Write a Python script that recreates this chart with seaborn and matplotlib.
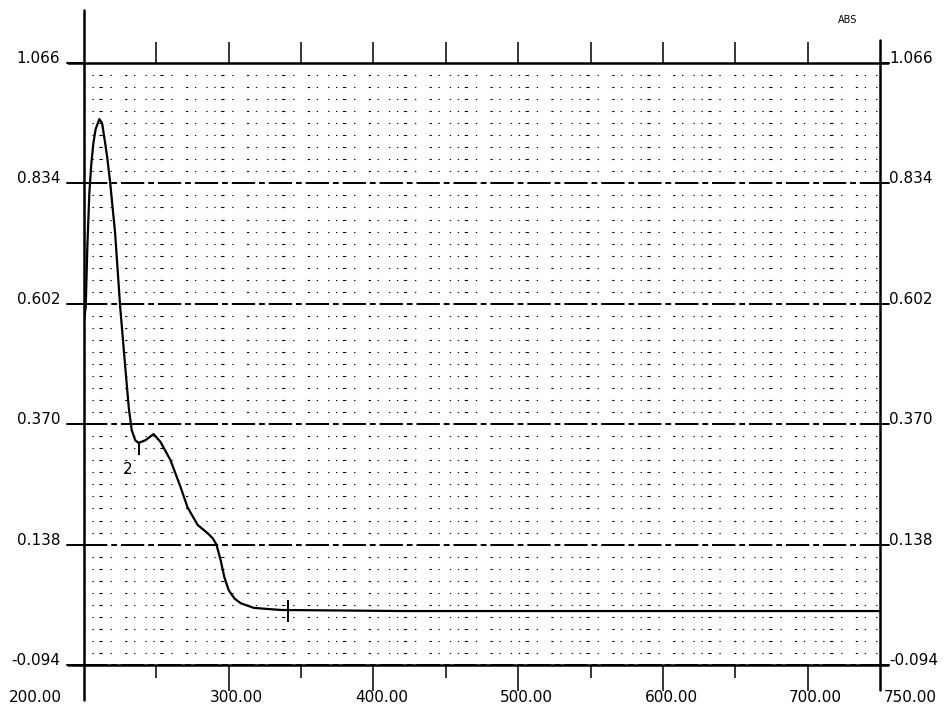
import numpy as np
import pandas as pd
import matplotlib
matplotlib.use("Agg")
import matplotlib.pyplot as plt
import seaborn as sns
from matplotlib import transforms

# ---------------- data ----------------
wavelength = [200.0, 201.2, 202.3, 203.7, 205.0, 206.5, 208.0, 210.6, 212.5, 214.6,
              216.0, 218.1, 221.5, 225.0, 228.5, 231.0, 233.0, 235.4, 237.7, 242.4,
              248.1, 252.8, 259.7, 266.7, 271.5, 278.5, 285.4, 289.0, 291.5, 294.4,
              297.0, 300.0, 304.0, 308.3, 317.4, 336.1, 419.4, 558.0, 750.0]
absorbance = [0.571, 0.596, 0.711, 0.816, 0.870, 0.912, 0.938, 0.958, 0.950, 0.912,
              0.885, 0.835, 0.738, 0.596, 0.480, 0.400, 0.358, 0.339, 0.334, 0.339,
              0.351, 0.336, 0.301, 0.249, 0.210, 0.176, 0.160, 0.150, 0.138, 0.108,
              0.075, 0.050, 0.034, 0.025, 0.016, 0.012, 0.010, 0.010, 0.010]

y_ticks = [1.066, 0.834, 0.602, 0.370, 0.138, -0.094]
y_tick_labels = ["1.066", "0.834", "0.602", "0.370", "0.138", "-0.094"]
x_ticks = [200, 300, 400, 500, 600, 700, 750]
x_tick_labels = ["200.00", "300.00", "400.00", "500.00", "600.00", "700.00", "750.00"]
x_top_ticks = [250, 300, 350, 400, 450, 500, 550, 600, 650, 700]
x_minor_ticks = [250, 350, 450, 550, 650]
y_minor_grid = list(np.linspace(-0.094, 1.066, 51))

peak_mark_nm = [237.7, 341.0]
peak_mark_lo = [0.311, -0.011]
peak_mark_hi = [0.334, 0.031]

# ---------------- style ----------------
sns.set_style("white")
plt.rcParams["font.family"] = ["DejaVu Sans"]
plt.rcParams["text.color"] = "black"

W, H = 948, 704
L, R, T, B = 84, 880, 63, 665
fig = plt.figure(figsize=(W / 100, H / 100), dpi=100)
ax = fig.add_axes([L / W, 1 - B / H, (R - L) / W, (B - T) / H])

df = pd.DataFrame({"wavelength": wavelength, "absorbance": absorbance})
sns.lineplot(data=df, x="wavelength", y="absorbance", color="black", lw=1.6,
             ax=ax, sort=False)

ax.set_xlim(200, 750)
ax.set_ylim(-0.094, 1.066)
ax.set_xlabel("")
ax.set_ylabel("")
for s in ax.spines.values():
    s.set_visible(False)

# grids
ax.set_yticks(y_ticks)
ax.set_yticks(y_minor_grid, minor=True)
ax.tick_params(axis="y", which="both", length=0, labelleft=False)
ax.grid(False)
ax.grid(axis="y", which="major", color="black", lw=1.4, linestyle=(0, (12, 2, 3, 2)))
ax.grid(axis="y", which="minor", color="black", lw=0.8,
        linestyle=(0, (1.2, 6, 1.2, 5, 3, 7, 1.2, 12, 2, 6, 1.2, 9)))
ax.grid(axis="x", which="both", visible=False)

# bottom ticks
ax.set_xticks(x_ticks[1:-1])
ax.set_xticks(x_minor_ticks, minor=True)
ax.tick_params(axis="x", which="major", direction="out", length=19, width=1.1,
               color="black", labelbottom=False, bottom=True)
ax.tick_params(axis="x", which="minor", direction="out", length=9, width=1.1,
               color="black", bottom=True)

# top ticks
sec = ax.secondary_xaxis("top")
sec.set_xticks(x_top_ticks)
sec.tick_params(axis="x", direction="out", length=15, width=1.1, color="black",
                labeltop=False)
sec.spines["top"].set_visible(False)

# frame lines (extended like the plotter output)
px = lambda x: (x - L) / (R - L)
py = lambda y: (B - y) / (B - T)
frame_kw = dict(color="black", lw=1.8, transform=ax.transAxes, clip_on=False)
ax.plot([px(68), px(888)], [1, 1], **frame_kw)
ax.plot([px(68), px(888)], [0, 0], **frame_kw)
ax.plot([0, 0], [py(700), py(10)], **frame_kw)
ax.plot([1, 1], [py(690), py(40)], **frame_kw)

# y tick extensions and labels
blend_y = transforms.blended_transform_factory(ax.transAxes, ax.transData)
for v, lab in zip(y_ticks, y_tick_labels):
    ax.plot([px(67), 0], [v, v], color="black", lw=1.4, transform=blend_y, clip_on=False)
    ax.plot([1, px(889)], [v, v], color="black", lw=1.4, transform=blend_y, clip_on=False)
    ax.text(px(60), v, lab, transform=blend_y, ha="right", va="baseline",
            fontsize=11, color="black")
    ax.text(px(889), v, lab, transform=blend_y, ha="left", va="baseline",
            fontsize=11, color="black")

# x tick labels
blend_x = transforms.blended_transform_factory(ax.transData, ax.transAxes)
for v, lab in zip(x_ticks, x_tick_labels):
    if v == 200:
        dx = -35.0
    elif v == 750:
        dx = 22.0
    else:
        dx = 5.8
    tr = transforms.offset_copy(blend_x, fig=fig, x=dx, y=0, units="points")
    ax.text(v, py(697), lab, transform=tr, ha="center", va="center",
            fontsize=11, color="black")

# peak pick marks
ax.vlines(peak_mark_nm, peak_mark_lo, peak_mark_hi, color="black", lw=1.4)
ax.text(230.5, 0.282, "2", fontsize=11, ha="center", va="center", color="black")

fig.text(848 / W, 1 - 20 / H, "ABS", fontsize=7, ha="center", va="center",
         color="black")

fig.savefig("out.png", dpi=100)
